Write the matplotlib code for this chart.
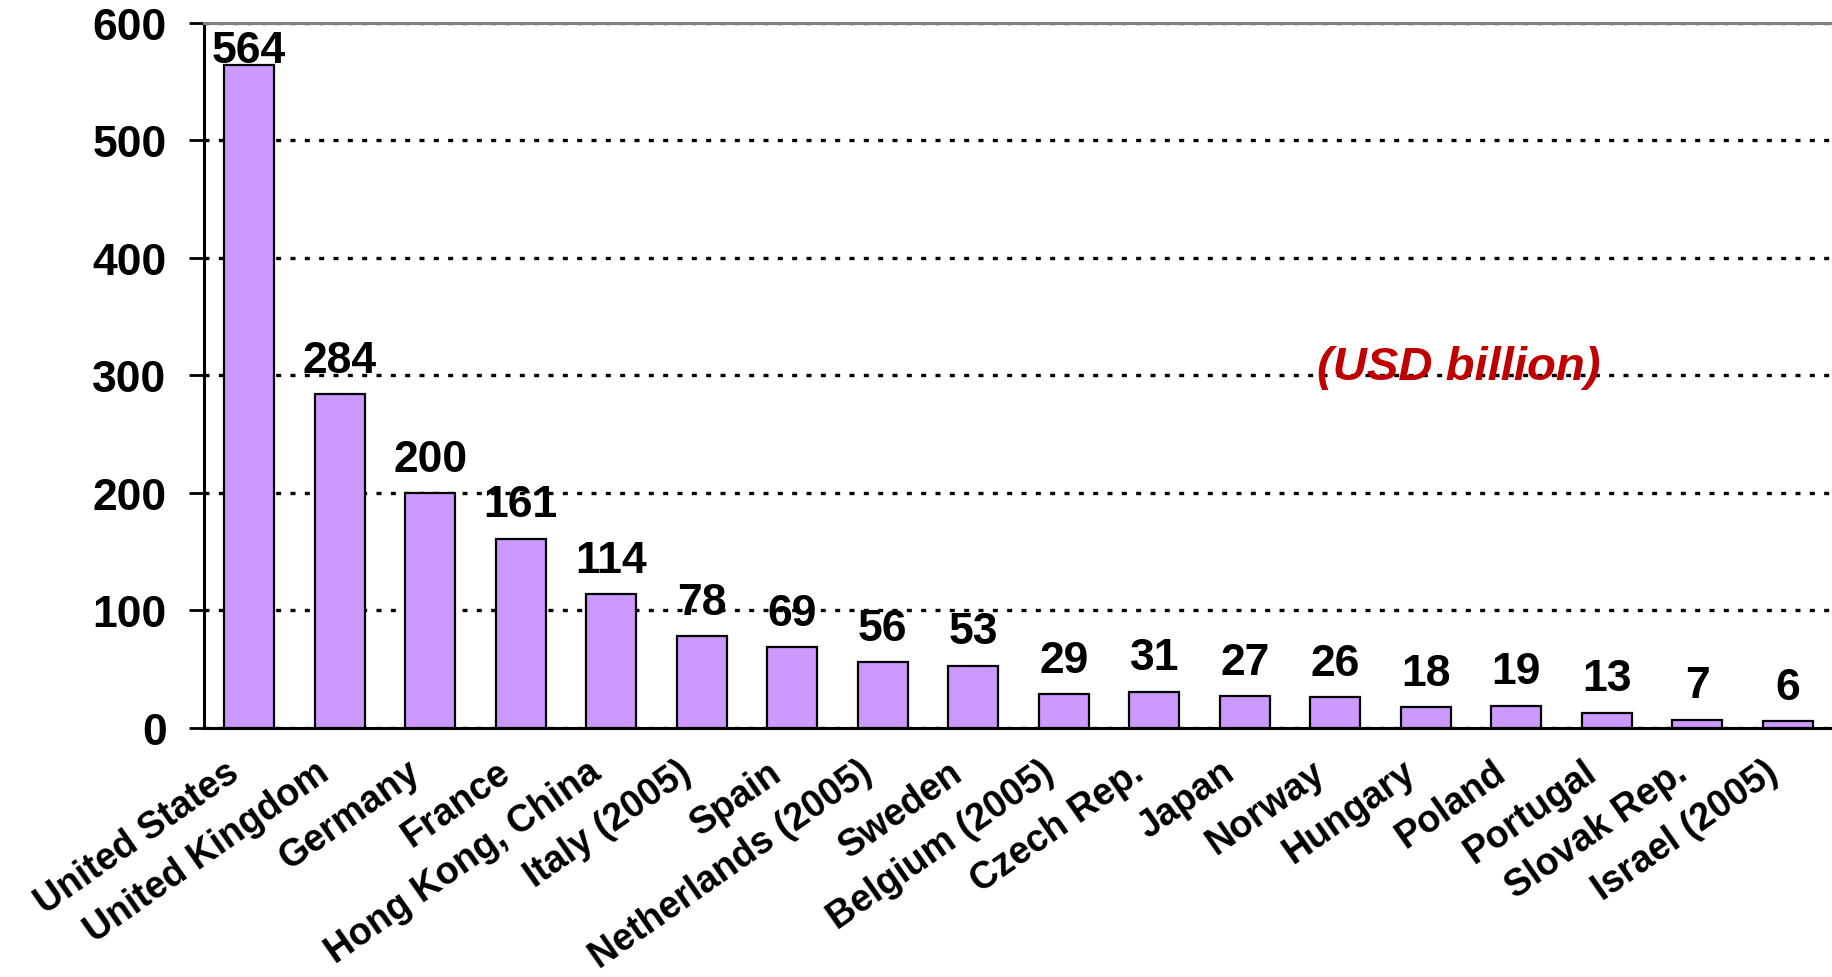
import matplotlib.pyplot as plt
import matplotlib.transforms as mtransforms
import numpy as np

plt.rcParams['font.family'] = ['Liberation Sans', 'DejaVu Sans']
plt.rcParams['font.weight'] = 'bold'

countries = ['United States', 'United Kingdom', 'Germany', 'France', 'Hong Kong, China',
             'Italy (2005)', 'Spain', 'Netherlands (2005)', 'Sweden', 'Belgium (2005)',
             'Czech Rep.', 'Japan', 'Norway', 'Hungary', 'Poland', 'Portugal',
             'Slovak Rep.', 'Israel (2005)']
values = [564, 284, 200, 161, 114, 78, 69, 56, 53, 29, 31, 27, 26, 18, 19, 13, 7, 6]
yticks = [0, 100, 200, 300, 400, 500, 600]
unit_label = '(USD billion)'

fig = plt.figure(figsize=(18.33, 9.78), dpi=100)
ax = fig.add_axes([0.1113, 0.2546, 0.8887, 0.7209])

x = np.arange(len(countries))
ax.bar(x, values, width=0.55, color='#CC99FF', edgecolor='black', linewidth=1.6, zorder=3)

ymax = yticks[-1]
ax.set_ylim(0, ymax)
ax.set_xlim(-0.5, len(countries) - 0.5)
ax.set_yticks(yticks)
ax.set_yticklabels([str(t) for t in yticks], fontsize=32, fontweight='bold')

# dotted gridlines
ax.yaxis.grid(True, color='black', linestyle=(0, (1.5, 2.8)), linewidth=2.4, zorder=1)
ax.set_axisbelow(True)

ax.spines['right'].set_visible(False)
ax.spines['top'].set_color('#808080')
ax.spines['top'].set_linewidth(2.2)
ax.spines['left'].set_linewidth(2.2)
ax.spines['bottom'].set_linewidth(2.2)

ax.tick_params(axis='y', direction='out', length=11, width=2, pad=16)
ax.tick_params(axis='x', length=0, pad=29)

ax.set_xticks(x)
ax.set_xticklabels(countries, fontsize=27, fontweight='bold', rotation=35,
                   ha='right', va='center', rotation_mode='anchor')
offset = mtransforms.ScaledTranslation(-0.14, 0, fig.dpi_scale_trans)
for lab in ax.get_xticklabels():
    lab.set_transform(lab.get_transform() + offset)

# value labels
for xi, v in zip(x, values):
    ax.text(xi, min(v + 19, ymax - 33), str(v), ha='center', va='baseline',
            fontsize=32, fontweight='bold', zorder=4)

ax.text(0.77, 0.512, unit_label, transform=ax.transAxes, ha='center', va='center',
        fontsize=34, fontweight='bold', style='italic', color='#C00000', zorder=4)

fig.savefig('out.png', dpi=100)
